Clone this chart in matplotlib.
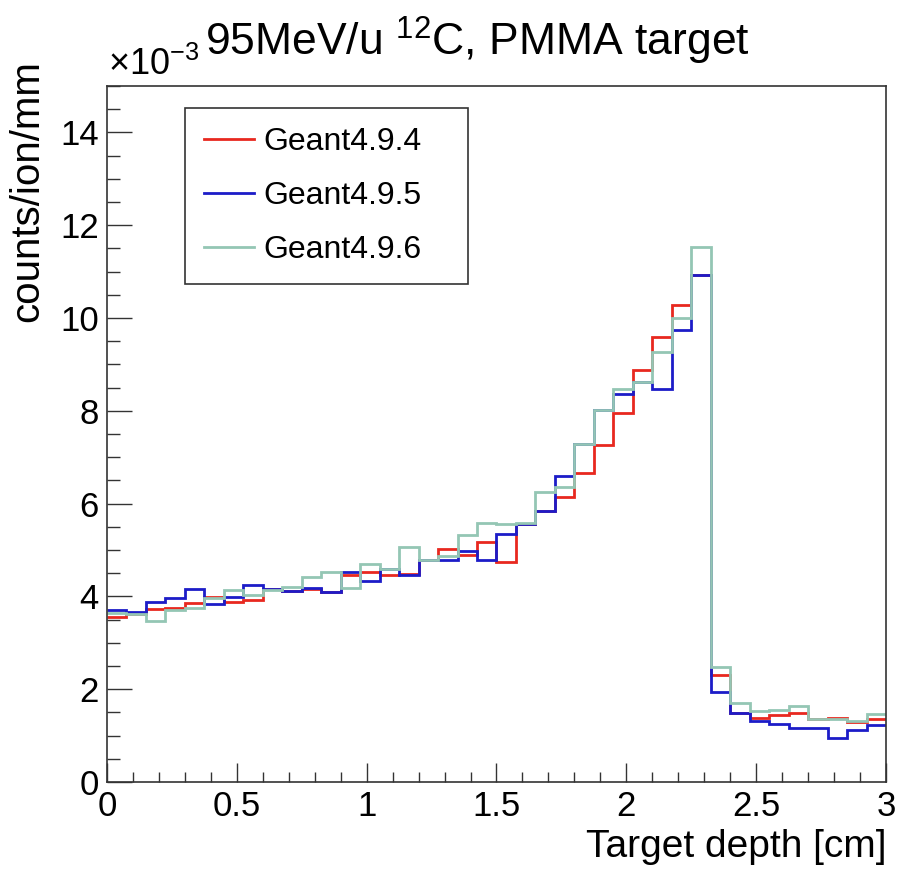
import numpy as np
import matplotlib
matplotlib.use('Agg')
import matplotlib.pyplot as plt
from matplotlib.ticker import MultipleLocator

plt.rcParams['font.family'] = ['Liberation Sans', 'DejaVu Sans']
plt.rcParams['mathtext.fontset'] = 'custom'
plt.rcParams['mathtext.rm'] = 'Liberation Sans'
plt.rcParams['mathtext.it'] = 'Liberation Sans'

# bin edges [cm] and counts/ion/mm (x1e-3)
edges = np.linspace(0, 3, 41)

g494 = [3.55, 3.62, 3.73, 3.75, 3.85, 3.98, 3.89, 3.92, 4.15, 4.11,
        4.17, 4.10, 4.46, 4.53, 4.46, 4.48, 4.78, 5.03, 4.89, 5.17,
        4.75, 5.56, 5.83, 6.15, 6.65, 7.26, 7.95, 8.88, 9.60, 10.28,
        10.93, 2.31, 1.48, 1.37, 1.44, 1.49, 1.35, 1.39, 1.30, 1.35]
g495 = [3.71, 3.66, 3.89, 3.97, 4.16, 3.84, 3.99, 4.25, 4.17, 4.12,
        4.18, 4.10, 4.53, 4.34, 4.58, 4.47, 4.78, 4.78, 4.97, 4.78,
        5.35, 5.57, 5.83, 6.59, 7.28, 8.02, 8.36, 8.62, 8.48, 9.74,
        10.93, 1.95, 1.48, 1.32, 1.25, 1.17, 1.17, 0.94, 1.11, 1.23]
g496 = [3.64, 3.62, 3.48, 3.71, 3.75, 3.96, 4.14, 4.03, 4.14, 4.21,
        4.42, 4.53, 4.19, 4.69, 4.60, 5.06, 4.78, 4.86, 5.32, 5.59,
        5.55, 5.58, 6.25, 6.36, 7.28, 8.02, 8.47, 8.62, 9.27, 10.01,
        11.54, 2.48, 1.71, 1.54, 1.56, 1.64, 1.35, 1.35, 1.31, 1.46]

labels = ['Geant4.9.4', 'Geant4.9.5', 'Geant4.9.6']
colors = ['#e8281f', '#1c1cc8', '#94c6b4']

fig = plt.figure(figsize=(8.98, 8.71), dpi=100)
ax = fig.add_axes([107/898, 1-782/871, (886-107)/898, (782-86)/871])

for vals, lab, c in zip([g494, g495, g496], labels, colors):
    ax.stairs(vals, edges, baseline=None, color=c, lw=2.0, label=lab)

ax.set_xlim(0, 3)
ax.set_ylim(0, 15)

ax.xaxis.set_major_locator(MultipleLocator(0.5))
ax.xaxis.set_minor_locator(MultipleLocator(0.1))
ax.yaxis.set_major_locator(MultipleLocator(2))
ax.yaxis.set_minor_locator(MultipleLocator(0.5))
ax.xaxis.set_major_formatter(plt.FuncFormatter(lambda v, p: '%g' % v))
ax.tick_params(which='both', direction='in', top=False, right=False,
               labelsize=25, width=1.0, color='#333333')
ax.tick_params(axis='x', which='major', length=14, pad=6)
ax.tick_params(axis='x', which='minor', length=7)
ax.tick_params(axis='y', which='major', length=18, pad=6)
ax.tick_params(axis='y', which='minor', length=9)
for s in ax.spines.values():
    s.set_color('#333333')
    s.set_linewidth(1.2)

leg = ax.legend(loc='upper left', bbox_to_anchor=(0.100, 0.968, 0.363, 0.0),
                mode='expand', fontsize=23, frameon=True, fancybox=False,
                edgecolor='#333333', framealpha=1, handlelength=1.55,
                handletextpad=0.3, labelspacing=0.74, borderpad=0.6,
                borderaxespad=0)
leg.get_frame().set_linewidth(1.2)

fig.text(0.532, 1-56/871, r'95MeV/u $^{12}$C, PMMA target', fontsize=32,
         ha='center', va='baseline')
fig.text(108/898, 1-75/871, r'$\times10^{-3}$', fontsize=26,
         ha='left', va='baseline')
fig.text(27/898, 1-60/871, 'counts/ion/mm', fontsize=29, rotation=90,
         ha='center', va='top')
fig.text(886/898, 1-857/871, 'Target depth [cm]', fontsize=28,
         ha='right', va='baseline')

fig.savefig('out.png', dpi=100)
